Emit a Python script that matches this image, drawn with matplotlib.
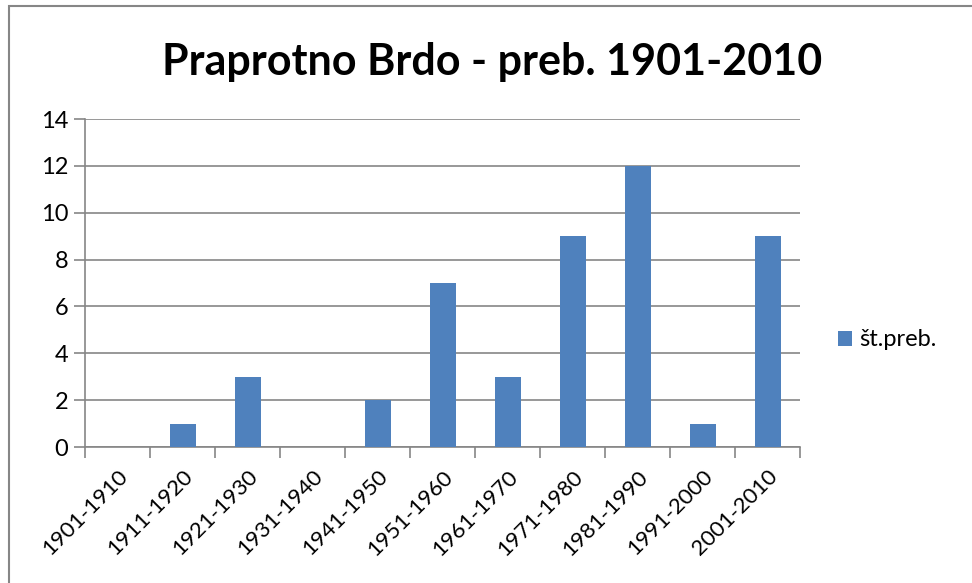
import matplotlib.pyplot as plt
from matplotlib.patches import Rectangle

plt.rcParams['font.family'] = ['Lato', 'DejaVu Sans']

decades = ['1901-1910', '1911-1920', '1921-1930', '1931-1940', '1941-1950',
           '1951-1960', '1961-1970', '1971-1980', '1981-1990', '1991-2000',
           '2001-2010']
values = [0, 1, 3, 0, 2, 7, 3, 9, 12, 1, 9]
series_name = 'št.preb.'
title = 'Praprotno Brdo - preb. 1901-2010'

W, H = 972, 583
fig = plt.figure(figsize=(W / 100, H / 100), dpi=100)
ax = fig.add_axes([85 / W, 1 - 447 / H, (800 - 85) / W, (447 - 119) / H])

grey = '#868686'
x = list(range(len(decades)))
bars = ax.bar(x, values, width=0.4, color='#4F81BD', label=series_name, zorder=3)

ax.set_xlim(-0.5, len(decades) - 0.5)
ax.set_ylim(0, 14)
ax.set_yticks(range(0, 15, 2))
ax.yaxis.grid(True, color=grey, linewidth=1.2, zorder=0)

# category boundary ticks like Excel
ax.set_xticks([i - 0.5 for i in range(len(decades) + 1)])
ax.set_xticklabels([])
ax.set_xticks(x, minor=True)
ax.set_xticklabels(decades, minor=True, rotation=45, ha='right', va='top',
                   rotation_mode='anchor', fontsize=16)
ax.tick_params(axis='x', which='minor', length=0, pad=14)
ax.tick_params(axis='x', which='major', length=8, width=1.2, color=grey, direction='out')
ax.tick_params(axis='y', length=8, width=1.2, color=grey, labelsize=17, pad=4)

for s in ['top', 'right']:
    ax.spines[s].set_visible(False)
for s in ['left', 'bottom']:
    ax.spines[s].set_color(grey)
    ax.spines[s].set_linewidth(1.2)

fig.text(492 / W, 1 - 62 / H, title, ha='center', va='center',
         fontsize=31, fontweight='bold')

leg = fig.legend(handles=[bars], labels=[series_name], loc='center left',
                 bbox_to_anchor=(838 / W, 1 - 340 / H), frameon=False,
                 fontsize=17, handlelength=0.6, handleheight=0.6,
                 handletextpad=0.3, borderaxespad=0, borderpad=0)

# chart area border, cut off at the right and bottom edges
fig.patches.append(Rectangle((9 / W, -10 / H), (W + 20) / W, (H + 4) / H,
                             transform=fig.transFigure, fill=False,
                             edgecolor=grey, linewidth=1.5))

fig.savefig('out.png', dpi=100)
